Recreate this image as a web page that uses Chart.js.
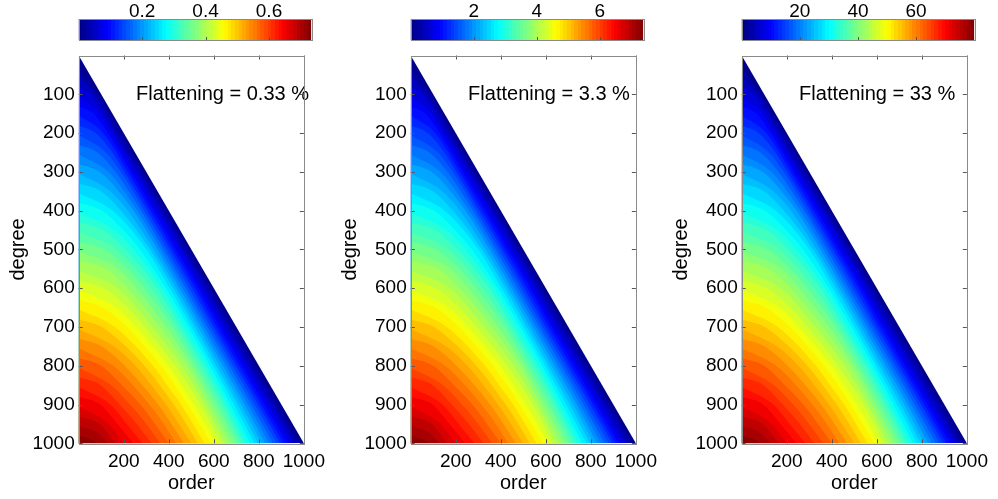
<!DOCTYPE html>
<html><head><meta charset="utf-8">
<script src="https://cdn.jsdelivr.net/npm/chart.js@4/dist/chart.umd.min.js"></script>
<style>
html,body{margin:0;padding:0;background:#fff;}
#wrap{position:relative;width:998px;height:499px;overflow:hidden;background:#fff;}
#wrap canvas{position:absolute;top:0;}
</style></head><body><div id="wrap"></div>
<script>
// ---------------- data ----------------
const panelTitles = ['Flattening = 0.33 %', 'Flattening = 3.3 %', 'Flattening = 33 %'];
const colorbarMax = [0.733, 7.38, 80];
const colorbarTicks1 = [0.2, 0.4, 0.6];
const colorbarTicks2 = [2, 4, 6];
const colorbarTicks3 = [20, 40, 60];
const orderTicks = [200, 400, 600, 800, 1000];
const degreeTicks = [100, 200, 300, 400, 500, 600, 700, 800, 900, 1000];
// edge of the triangular domain (order = degree)
const domainEdge = [[0, 0], [1000, 1000]];
// filled-contour levels, as a fraction of each colour bar range
const contourFractions = [0.025, 0.050, 0.075, 0.100, 0.125, 0.150, 0.175, 0.200, 0.225, 0.250,
                          0.275, 0.300, 0.325, 0.350, 0.375, 0.400, 0.425, 0.450, 0.475, 0.500,
                          0.525, 0.550, 0.575, 0.600, 0.625, 0.650, 0.675, 0.700, 0.725, 0.750,
                          0.775, 0.800, 0.825, 0.850, 0.875, 0.900, 0.925, 0.950, 0.975];
// contour lines as [order, degree] pairs
const c025 = [[0,30],[87,100],[187,200],[287,300],[387,400],[487,500],[586,600],[685,700],[785,800],[885,900],[985,1000]];
const c050 = [[0,55],[73,100],[173,200],[274,300],[374,400],[474,500],[573,600],[671,700],[770,800],[870,900],[970,1000]];
const c075 = [[0,80],[54,100],[159,200],[260,300],[361,400],[461,500],[559,600],[656,700],[755,800],[855,900],[955,1000]];
const c100 = [[0,105],[93,150],[146,200],[247,300],[347,400],[447,500],[545,600],[641,700],[741,800],[840,900],[940,1000]];
const c125 = [[0,130],[66,150],[130,200],[232,300],[333,400],[433,500],[532,600],[627,700],[726,800],[825,900],[925,1000]];
const c150 = [[0,155],[109,200],[218,300],[319,400],[419,500],[518,600],[613,700],[712,800],[811,900],[910,1000]];
const c175 = [[0,180],[75,200],[150,250],[203,300],[305,400],[406,500],[504,600],[599,700],[698,800],[797,900],[895,1000]];
const c200 = [[0,205],[121,250],[187,300],[291,400],[392,500],[490,600],[586,700],[684,800],[782,900],[879,1000]];
const c225 = [[0,230],[83,250],[163,300],[277,400],[378,500],[476,600],[572,700],[670,800],[767,900],[862,1000]];
const c250 = [[0,255],[132,300],[260,400],[364,500],[462,600],[558,700],[655,800],[752,900],[845,1000]];
const c275 = [[0,280],[92,300],[177,350],[243,400],[350,500],[448,600],[544,700],[641,800],[737,900],[828,1000]];
const c300 = [[0,305],[141,350],[218,400],[333,500],[434,600],[530,700],[626,800],[722,900],[812,1000]];
const c325 = [[0,330],[98,350],[187,400],[317,500],[420,600],[516,700],[611,800],[706,900],[796,1000]];
const c350 = [[0,355],[150,400],[300,500],[404,600],[501,700],[597,800],[690,900],[780,1000]];
const c375 = [[0,380],[102,400],[197,450],[272,500],[387,600],[487,700],[583,800],[674,900],[762,1000]];
const c400 = [[0,405],[158,450],[243,500],[370,600],[470,700],[568,800],[660,900],[747,1000]];
const c425 = [[0,430],[108,450],[207,500],[349,600],[452,700],[553,800],[645,900],[732,1000]];
const c450 = [[0,455],[167,500],[321,600],[435,700],[535,800],[631,900],[718,1000]];
const c475 = [[0,480],[113,500],[217,550],[291,600],[417,700],[518,800],[613,900],[703,1000]];
const c500 = [[0,505],[175,550],[256,600],[389,700],[501,800],[595,900],[685,1000]];
const c525 = [[0,530],[118,550],[217,600],[292,650],[360,700],[483,800],[577,900],[667,1000]];
const c550 = [[0,555],[173,600],[327,700],[457,800],[559,900],[648,1000]];
const c575 = [[0,580],[112,600],[216,650],[293,700],[428,800],[541,900],[630,1000]];
const c600 = [[0,605],[167,650],[254,700],[399,800],[456,850],[512,900],[611,1000]];
const c625 = [[0,630],[107,650],[214,700],[293,750],[365,800],[428,850],[484,900],[588,1000]];
const c650 = [[0,655],[160,700],[330,800],[393,850],[455,900],[559,1000]];
const c675 = [[0,680],[103,700],[209,750],[292,800],[360,850],[422,900],[478,950],[529,1000]];
const c700 = [[0,705],[156,750],[252,800],[323,850],[388,900],[445,950],[500,1000]];
const c725 = [[0,730],[101,750],[204,800],[283,850],[353,900],[412,950],[467,1000]];
const c750 = [[0,755],[153,800],[241,850],[314,900],[378,950],[433,1000]];
const c775 = [[0,780],[100,800],[192,850],[274,900],[339,950],[400,1000]];
const c800 = [[0,805],[144,850],[228,900],[300,950],[362,1000]];
const c825 = [[0,830],[97,850],[182,900],[258,950],[323,1000]];
const c850 = [[0,855],[140,900],[213,950],[283,1000]];
const c875 = [[0,880],[96,900],[172,950],[242,1000]];
const c900 = [[0,905],[134,950],[200,1000]];
const c925 = [[0,930],[93,950],[164,1000]];
const c950 = [[0,955],[80,972],[129,1000]];
const c975 = [[0,980],[55,990],[83,1000]];
const contours = [c025,c050,c075,c100,c125,c150,c175,c200,c225,c250,c275,c300,c325,c350,c375,c400,c425,c450,c475,c500,
                  c525,c550,c575,c600,c625,c650,c675,c700,c725,c750,c775,c800,c825,c850,c875,c900,c925,c950,c975];
const colorbarTicks = [colorbarTicks1, colorbarTicks2, colorbarTicks3];

// ---------------- styling / layout ----------------
const FONT = "'Liberation Sans', Arial, Helvetica, sans-serif";
const panelLeft = [0, 331.6, 663.3];
const BAND = 0.025;
Chart.defaults.font.family = FONT;
Chart.defaults.color = '#000';

function jet(t) {
  const c = v => Math.round(255 * Math.max(0, Math.min(1, v)));
  return 'rgb(' + c(1.5 - Math.abs(4 * t - 3)) + ',' + c(1.5 - Math.abs(4 * t - 2)) + ',' + c(1.5 - Math.abs(4 * t - 1)) + ')';
}
const toXY = arr => arr.map(p => ({x: p[0], y: p[1]}));

const panelText = {
  id: 'panelText',
  afterDatasetsDraw(chart, args, opts) {
    const {ctx, scales: {x, y}} = chart;
    ctx.save();
    ctx.font = '20px ' + FONT;
    ctx.fillStyle = '#000';
    ctx.textAlign = 'left';
    ctx.textBaseline = 'middle';
    ctx.fillText(opts.text, x.getPixelForValue(opts.at[0]), y.getPixelForValue(opts.at[1]));
    ctx.restore();
  }
};

const boxTicks = {
  id: 'boxTicks',
  afterDatasetsDraw(chart) {
    const {ctx, chartArea: a, scales: {x, y}} = chart;
    ctx.save();
    ctx.lineWidth = 1;
    ctx.strokeStyle = '#555';
    const L = 4;
    ctx.beginPath();
    x.ticks.forEach(t => {
      const px = Math.round(x.getPixelForValue(t.value)) + 0.5;
      ctx.moveTo(px, a.bottom); ctx.lineTo(px, a.bottom - L);
      ctx.moveTo(px, a.top); ctx.lineTo(px, a.top + L);
    });
    y.ticks.forEach(t => {
      const py = Math.round(y.getPixelForValue(t.value)) + 0.5;
      ctx.moveTo(a.left, py); ctx.lineTo(a.left + L, py);
      ctx.moveTo(a.right, py); ctx.lineTo(a.right - L, py);
    });
    ctx.stroke();
    ctx.strokeStyle = '#8a8a8a';
    ctx.strokeRect(Math.round(a.left) + 0.5, Math.round(a.top) + 0.5, Math.round(a.width), Math.round(a.height));
    ctx.restore();
  }
};

const cbBox = {
  id: 'cbBox',
  afterDatasetsDraw(chart) {
    const {ctx, chartArea: a, scales: {x}} = chart;
    ctx.save();
    ctx.lineWidth = 1;
    ctx.strokeStyle = '#555';
    ctx.beginPath();
    x.ticks.forEach(t => {
      const px = Math.round(x.getPixelForValue(t.value)) + 0.5;
      ctx.moveTo(px, a.bottom); ctx.lineTo(px, a.bottom - 3);
    });
    ctx.stroke();
    ctx.strokeStyle = '#8a8a8a';
    ctx.strokeRect(Math.round(a.left) + 0.5, Math.round(a.top) + 0.5, Math.round(a.width), Math.round(a.height));
    ctx.restore();
  }
};

const wrap = document.getElementById('wrap');
function addCanvas(left, w, h) {
  const cv = document.createElement('canvas');
  cv.width = w; cv.height = h;
  cv.style.left = left + 'px';
  cv.style.width = w + 'px'; cv.style.height = h + 'px';
  wrap.appendChild(cv);
  return cv;
}

for (let i = 0; i < 3; i++) {
  // ---- filled-contour panel ----
  const datasets = [{
    data: toXY(domainEdge), fill: {value: 1000}, backgroundColor: jet(BAND / 2),
    borderWidth: 0, pointRadius: 0, order: 1000
  }];
  contours.forEach((c, k) => {
    datasets.push({
      data: toXY(c), fill: {value: 1000}, backgroundColor: jet(contourFractions[k] + BAND / 2),
      borderWidth: 0, pointRadius: 0, cubicInterpolationMode: 'monotone', order: 999 - k
    });
  });
  new Chart(addCanvas(panelLeft[i], 332, 499), {
    type: 'line',
    data: {datasets},
    options: {
      responsive: false, animation: false, devicePixelRatio: 1, events: [],
      layout: {padding: {left: 0, right: 22, top: 55.5, bottom: 3.7}},
      plugins: {legend: {display: false}, tooltip: {enabled: false},
                panelText: {text: panelTitles[i], at: [255, 100]}},
      scales: {
        x: {
          type: 'linear', min: 0, max: 1000,
          afterBuildTicks(s) { s.ticks = orderTicks.map(v => ({value: v})); },
          afterFit(s) { s.height = 52; },
          grid: {display: false, drawTicks: false}, border: {display: false},
          ticks: {padding: 7, autoSkip: false, maxRotation: 0, minRotation: 0,
                  font: {size: 19}, color: '#000', callback: v => String(v)},
          title: {display: true, text: 'order', font: {size: 20}, color: '#000', padding: {top: 0, bottom: 0}}
        },
        y: {
          type: 'linear', min: 0, max: 1000, reverse: true,
          afterBuildTicks(s) { s.ticks = degreeTicks.map(v => ({value: v})); },
          afterFit(s) { s.width = 78.7; },
          grid: {display: false, drawTicks: false}, border: {display: false},
          ticks: {padding: 4, autoSkip: false, font: {size: 19}, color: '#000', callback: v => String(v)},
          title: {display: true, text: 'degree', font: {size: 20}, color: '#000', padding: {top: 6, bottom: 0}}
        }
      }
    },
    plugins: [panelText, boxTicks]
  });

  // ---- colour bar ----
  new Chart(addCanvas(panelLeft[i], 332, 45), {
    type: 'bar',
    data: {labels: [''], datasets: [{
      data: [colorbarMax[i]], barPercentage: 1, categoryPercentage: 1, borderWidth: 0,
      backgroundColor(ctx) {
        const ch = ctx.chart, a = ch.chartArea;
        if (!a) return 'transparent';
        const g = ch.ctx.createLinearGradient(a.left, 0, a.right, 0);
        for (let k = 0; k < 64; k++) {
          const c = jet((k + 0.5) / 64);
          g.addColorStop(k / 64, c); g.addColorStop((k + 1) / 64, c);
        }
        return g;
      }
    }]},
    options: {
      indexAxis: 'y', responsive: false, animation: false, devicePixelRatio: 1, events: [],
      layout: {padding: {left: 78.7, right: 20.8, top: 0, bottom: 5}},
      plugins: {legend: {display: false}, tooltip: {enabled: false}},
      scales: {
        x: {
          type: 'linear', position: 'top', min: 0, max: colorbarMax[i],
          afterBuildTicks(s) { s.ticks = colorbarTicks[i].map(v => ({value: v})); },
          afterFit(s) { s.height = 19; },
          grid: {display: false, drawTicks: false}, border: {display: false},
          ticks: {padding: 0, autoSkip: false, maxRotation: 0, minRotation: 0,
                  font: {size: 19, lineHeight: 0.8}, color: '#000', callback: v => String(v)}
        },
        y: {display: false}
      }
    },
    plugins: [cbBox]
  });
}
</script></body></html>
